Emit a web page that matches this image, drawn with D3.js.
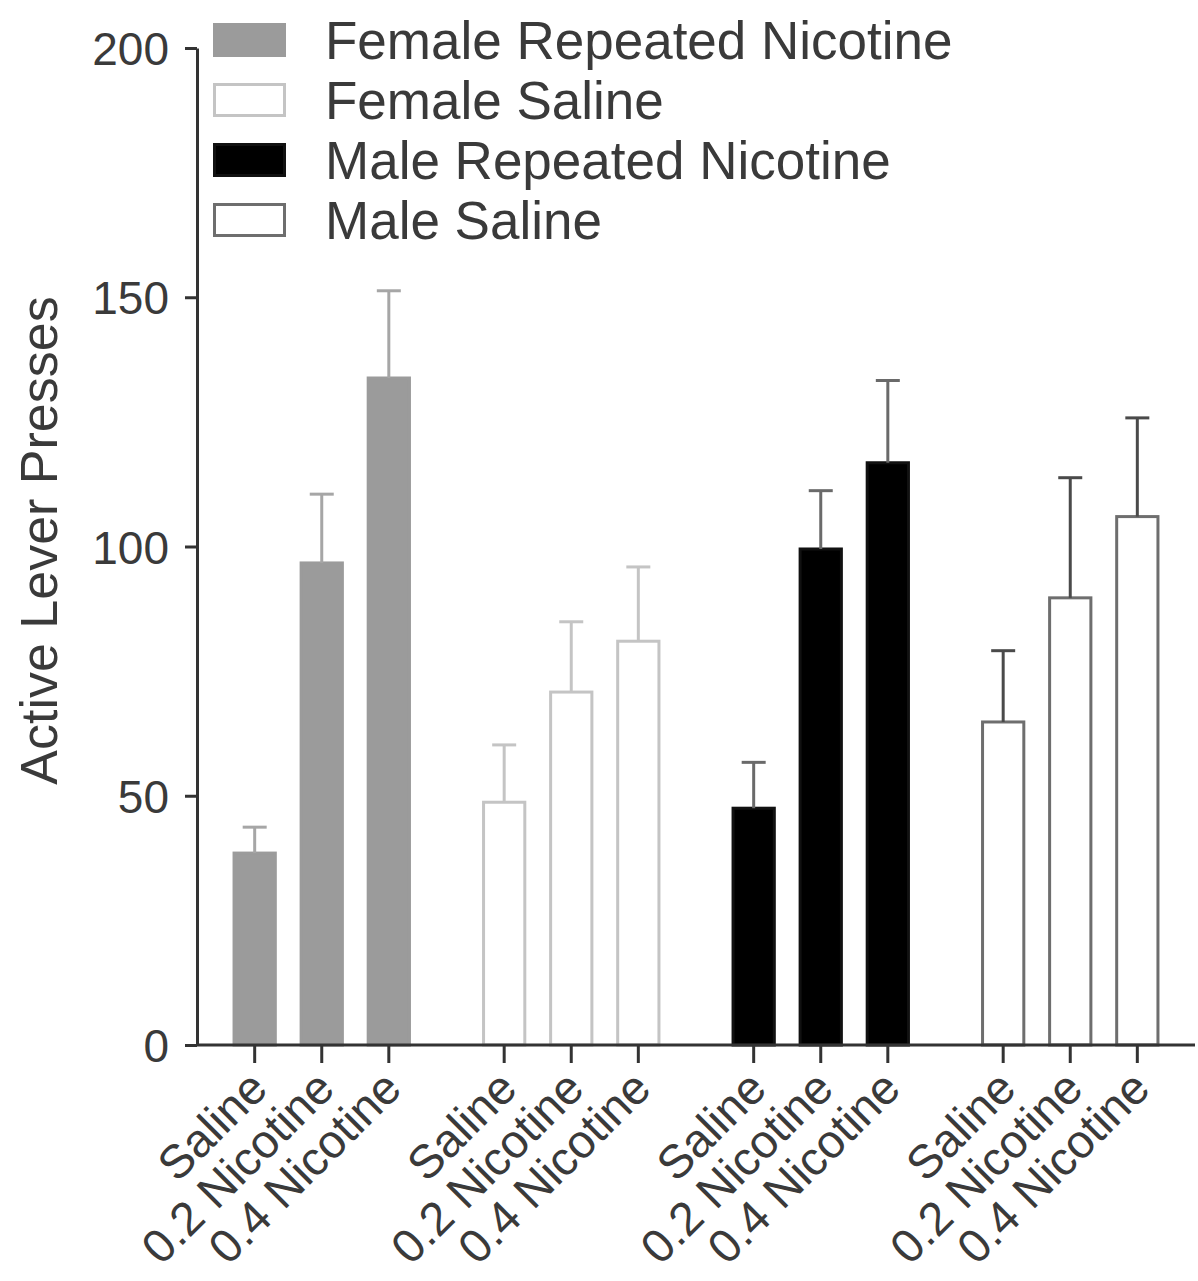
<!DOCTYPE html>
<html>
<head>
<meta charset="utf-8">
<script src="https://cdn.jsdelivr.net/npm/d3@7"></script>
<style>
  body { margin: 0; background: #fff; }
  text { font-family: "Liberation Sans", Arial, sans-serif; fill: #3a3a3a; }
</style>
</head>
<body>
<div id="chart-container"></div>
<script>
// data
const groups = ["Female Repeated Nicotine", "Female Saline", "Male Repeated Nicotine", "Male Saline"];
const doses = ["Saline", "0.2 Nicotine", "0.4 Nicotine"];
const femaleNicMean = [38.5, 96.7, 133.8];
const femaleNicErr  = [43.7, 110.5, 151.3];
const femaleSalMean = [48.7, 70.8, 81.0];
const femaleSalErr  = [60.2, 84.9, 95.9];
const maleNicMean   = [47.5, 99.5, 116.8];
const maleNicErr    = [56.7, 111.2, 133.3];
const maleSalMean   = [64.8, 89.7, 106.0];
const maleSalErr    = [79.1, 113.8, 125.8];
const yTicks = [0, 50, 100, 150, 200];

const means = [femaleNicMean, femaleSalMean, maleNicMean, maleSalMean];
const errs = [femaleNicErr, femaleSalErr, maleNicErr, maleSalErr];

// styles per group
const fills   = ["#9b9b9b", "#ffffff", "#000000", "#ffffff"];
const strokes = ["#9b9b9b", "#c4c4c4", "#111111", "#6e6e6e"];
const errCols = ["#a6a6a6", "#c4c4c4", "#6a6a6a", "#4a4a4a"];

const data = [];
groups.forEach((g, gi) => {
  doses.forEach((d, di) => {
    data.push({group: g, gi: gi, dose: d, value: means[gi][di], top: errs[gi][di]});
  });
});

const W = 1198, H = 1281;
const margin = {top: 48, right: 3, bottom: 236, left: 197};
const width = W - margin.left - margin.right;
const height = H - margin.top - margin.bottom;

const svg = d3.select("#chart-container")
  .append("svg")
  .attr("width", W)
  .attr("height", H)
  .append("g")
  .attr("transform", `translate(${margin.left},${margin.top})`);

const x0 = d3.scaleBand().domain(groups).range([0, width]);
const x1 = d3.scaleBand().domain(doses).range([0, x0.bandwidth()])
  .paddingInner(0.34).paddingOuter(0.53);
const y = d3.scaleLinear().domain([0, 200]).range([height, 0]);

// bars
const bw = x1.bandwidth();
svg.append("g").selectAll("rect")
  .data(data)
  .join("rect")
  .attr("x", d => x0(d.group) + x1(d.dose) + 1.5)
  .attr("y", d => y(d.value))
  .attr("width", bw - 3)
  .attr("height", d => y(0) - y(d.value))
  .attr("fill", d => fills[d.gi])
  .attr("stroke", d => strokes[d.gi])
  .attr("stroke-width", 3);

// error bars (upper only)
const eb = svg.append("g").selectAll("g")
  .data(data)
  .join("g")
  .attr("stroke", d => errCols[d.gi])
  .attr("stroke-width", 3);
eb.append("line")
  .attr("x1", d => x0(d.group) + x1(d.dose) + bw / 2)
  .attr("x2", d => x0(d.group) + x1(d.dose) + bw / 2)
  .attr("y1", d => y(d.value))
  .attr("y2", d => y(d.top));
eb.append("line")
  .attr("x1", d => x0(d.group) + x1(d.dose) + bw / 2 - 12)
  .attr("x2", d => x0(d.group) + x1(d.dose) + bw / 2 + 12)
  .attr("y1", d => y(d.top))
  .attr("y2", d => y(d.top));

// y axis
const yAxis = svg.append("g")
  .call(d3.axisLeft(y).tickValues(yTicks).tickSize(12).tickSizeOuter(0).tickPadding(16));
yAxis.select(".domain").attr("stroke", "#333").attr("stroke-width", 3);
yAxis.selectAll(".tick line").attr("stroke", "#333").attr("stroke-width", 3);
yAxis.selectAll(".tick text")
  .attr("font-size", 46)
  .attr("fill", "#444")
  .attr("dy", "0.36em")
  .style("font-family", "Liberation Sans, Arial, sans-serif");

// x axis: one tick per bar
const xAxisG = svg.append("g").attr("transform", `translate(0,${height})`);
xAxisG.append("line")
  .attr("x1", 0).attr("x2", width)
  .attr("y1", 0).attr("y2", 0)
  .attr("stroke", "#333").attr("stroke-width", 3);
const xt = xAxisG.selectAll("g.xtick")
  .data(data)
  .join("g")
  .attr("class", "xtick")
  .attr("transform", d => `translate(${x0(d.group) + x1(d.dose) + bw / 2},0)`);
xt.append("line")
  .attr("y1", 0).attr("y2", 18)
  .attr("stroke", "#333").attr("stroke-width", 3);
xt.append("text")
  .attr("text-anchor", "end")
  .attr("font-size", 47)
  .attr("fill", "#444")
  .attr("transform", "translate(15,46) rotate(-45)")
  .text(d => d.dose);

// y axis title
svg.append("text")
  .attr("transform", `translate(${-140},${y(100) - 6}) rotate(-90)`)
  .attr("text-anchor", "middle")
  .attr("font-size", 52)
  .attr("fill", "#444")
  .text("Active Lever Presses");

// legend
const legend = svg.append("g").attr("transform", `translate(${213 - margin.left},${-25})`);
const li = legend.selectAll("g")
  .data(groups)
  .join("g")
  .attr("transform", (d, i) => `translate(0,${i * 60})`);
li.append("rect")
  .attr("x", 1.5).attr("y", 1.5)
  .attr("width", 70).attr("height", 31)
  .attr("fill", (d, i) => fills[i])
  .attr("stroke", (d, i) => strokes[i])
  .attr("stroke-width", 3);
li.append("text")
  .attr("x", 112)
  .attr("y", 17)
  .attr("dy", "0.36em")
  .attr("font-size", 53)
  .attr("fill", "#3a3a3a")
  .text(d => d);
</script>
</body>
</html>
